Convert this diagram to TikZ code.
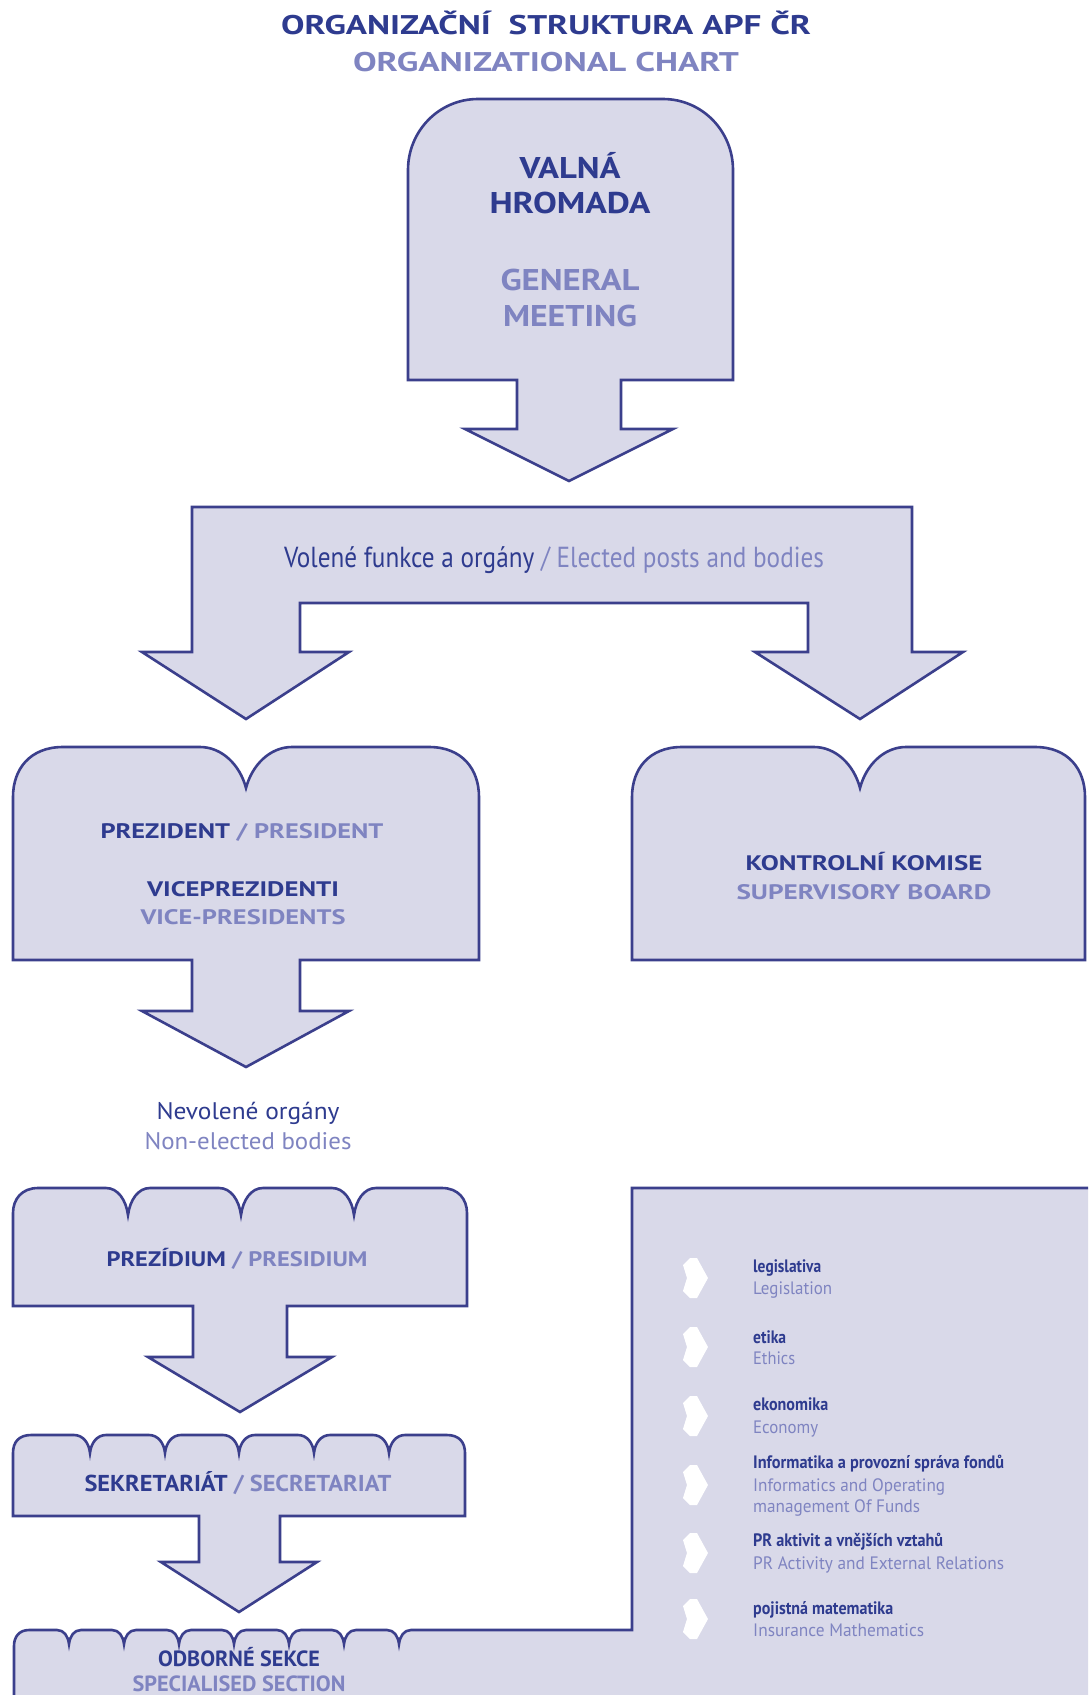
\documentclass[tikz,border=0pt]{standalone}
\usepackage{fontspec}
\setmainfont{PT Sans}
\usepackage{graphicx}
\definecolor{dk}{HTML}{2E3B8F}
\definecolor{lt}{HTML}{7F84C1}
\definecolor{boxfill}{HTML}{D9D9E9}
\definecolor{boxline}{HTML}{3B3F8C}
\newsavebox\hfbox
\newlength\hflen
\newcommand\hfit[2]{\sbox\hfbox{#2}\setlength\hflen{\wd\hfbox}\pgfmathsetmacro\hfsx{#1/\hflen}\scalebox{\hfsx}[1]{\usebox\hfbox}}
\newcommand\fs[1]{\fontsize{#1}{#1}\selectfont}
\tikzset{
  blockshape/.style={draw=boxline, fill=boxfill, line width=2.6pt, line join=miter},
  txt/.style={anchor=base, inner sep=0pt},
  ltxt/.style={anchor=base west, inner sep=0pt},
  chev/.style={fill=white, draw=none}
}
\begin{document}
\begin{tikzpicture}[x=1pt,y=-1pt]
\useasboundingbox (0,0) rectangle (1088,1695);
\clip (0,0) rectangle (1088,1695);
\fill[white] (0,0) rectangle (1088,1695);

% Title
\node[txt] (title1) at (546,34.5) {\fs{27}\bfseries\color{dk}\hfit{530}{ORGANIZAČNÍ\ \ STRUKTURA APF ČR}};
\node[txt] (title2) at (546,71.5) {\fs{27}\bfseries\color{lt}\hfit{386}{ORGANIZATIONAL CHART}};

% Valna hromada
\draw[blockshape] (408,380) -- (408,170) .. controls (408,131) and (439,99) .. (478,99)
  -- (663,99) .. controls (702,99) and (733,131) .. (733,170) -- (733,380)
  -- (621,380) -- (621,429) -- (673,429) -- (569,481) -- (465,429) -- (517,429) -- (517,380) -- cycle;
\node[txt] (valna) at (570,178.5) {\fs{30}\bfseries\color{dk}\hfit{101}{VALNÁ}};
\node[txt] (hromada) at (570,213.5) {\fs{30}\bfseries\color{dk}\hfit{161}{HROMADA}};
\node[txt] (general) at (570,290.5) {\fs{30}\bfseries\color{lt}\hfit{139}{GENERAL}};
\node[txt] (meeting) at (570,326.5) {\fs{30}\bfseries\color{lt}\hfit{134}{MEETING}};

% Elected band
\draw[blockshape] (192,507) -- (912,507) -- (912,652) -- (963,652) -- (860,719) -- (755,652)
  -- (808,652) -- (808,603) -- (300,603) -- (300,652) -- (349,652) -- (246,719) -- (142,652)
  -- (192,652) -- cycle;
\node[txt] (elected) at (554,567) {\fs{29}\hfit{540}{\color{dk}Volené funkce a orgány \color{lt}/ Elected posts and bodies}};

% President box
\draw[blockshape] (13,960) -- (13,797) .. controls (13,769) and (30,747) .. (63,747)
  -- (200,747) .. controls (222,747) and (240,765) .. (246,788)
  .. controls (252,765) and (270,747) .. (292,747)
  -- (429,747) .. controls (462,747) and (479,769) .. (479,797)
  -- (479,960) -- (300,960) -- (300,1011) -- (349,1011) -- (246,1067) -- (142,1011)
  -- (192,1011) -- (192,960) -- cycle;
\node[txt] (prez) at (242,838.5) {\fs{21}\bfseries\hfit{283}{\color{dk}PREZIDENT \color{lt}/ PRESIDENT}};
\node[txt] (vice) at (243,896.5) {\fs{21}\bfseries\color{dk}\hfit{192}{VICEPREZIDENTI}};
\node[txt] (viceen) at (243,924.5) {\fs{21}\bfseries\color{lt}\hfit{205}{VICE-PRESIDENTS}};

% Kontrolni komise
\draw[blockshape] (632,960) -- (632,797) .. controls (632,769) and (649,747) .. (682,747)
  -- (814,747) .. controls (836,747) and (854,765) .. (860,788)
  .. controls (866,765) and (884,747) .. (906,747)
  -- (1035,747) .. controls (1068,747) and (1085,769) .. (1085,797)
  -- (1085,960) -- cycle;
\node[txt] (kk) at (864,870.5) {\fs{21}\bfseries\color{dk}\hfit{237}{KONTROLNÍ KOMISE}};
\node[txt] (sb) at (864,899.5) {\fs{21}\bfseries\color{lt}\hfit{255}{SUPERVISORY BOARD}};

% Non-elected
\node[txt] (nevol) at (248,1119) {\fs{24}\color{dk}\hfit{183}{Nevolené orgány}};
\node[txt] (nonel) at (248,1149) {\fs{24}\color{lt}\hfit{207}{Non-elected bodies}};

% Prezidium
\draw[blockshape] (13,1306) -- (13,1213) .. controls (13,1199) and (22,1188) .. (38,1188)
  \foreach \n in {128,241,354} { -- (\n-22,1188) .. controls (\n-10,1188) and (\n-2,1200) .. (\n,1215)
     .. controls (\n+2,1200) and (\n+10,1188) .. (\n+22,1188) }
  -- (442,1188) .. controls (458,1188) and (467,1199) .. (467,1213)
  -- (467,1306) -- (287,1306) -- (287,1357) -- (332,1357) -- (240,1412) -- (148,1357)
  -- (193,1357) -- (193,1306) -- cycle;
\node[txt] (prezidium) at (237,1266) {\fs{21}\bfseries\hfit{261}{\color{dk}PREZÍDIUM \color{lt}/ PRESIDIUM}};

% Sekretariat
\draw[blockshape] (13,1516) -- (13,1453) .. controls (13,1442) and (19,1435) .. (31,1435)
  \foreach \n in {90,165,239,314,389} { -- (\n-16,1435) .. controls (\n-7,1435) and (\n-1,1443) .. (\n,1453)
     .. controls (\n+1,1443) and (\n+7,1435) .. (\n+16,1435) }
  -- (447,1435) .. controls (459,1435) and (465,1442) .. (465,1453)
  -- (465,1516) -- (280,1516) -- (280,1562) -- (317,1562) -- (239,1612) -- (161,1562)
  -- (199,1562) -- (199,1516) -- cycle;
\node[txt] (sekr) at (238,1491) {\fs{23}\bfseries\hfit{307}{\color{dk}SEKRETARIÁT \color{lt}/ SECRETARIAT}};

% Odborne sekce + panel
\draw[blockshape] (14,1710) -- (14,1646) .. controls (14,1637) and (19,1630) .. (29,1630)
  \foreach \n in {69,124,179,234,289,344,399} { -- (\n-12,1630) .. controls (\n-5,1630) and (\n-1,1636) .. (\n,1644)
     .. controls (\n+1,1636) and (\n+5,1630) .. (\n+12,1630) }
  -- (632,1630) -- (632,1188) -- (1100,1188) -- (1100,1710) -- cycle;
\node[txt] (odb) at (239,1666.5) {\fs{22}\bfseries\color{dk}\hfit{162}{ODBORNÉ SEKCE}};
\node[txt] (spec) at (239,1691.5) {\fs{22}\bfseries\color{lt}\hfit{213}{SPECIALISED SECTION}};

% Chevrons
\foreach \cy/\nm in {1278/c1,1347/c2,1416/c3,1485/c4,1553/c5,1619/c6} {
  \fill[chev] (683,\cy-13) -- (690,\cy-20) -- (697,\cy-20) -- (708,\cy) -- (697,\cy+20) -- (690,\cy+20) -- (683,\cy+13) -- (687,\cy) -- cycle;
}

% Sections list
\node[ltxt] (s1a) at (753,1272) {\fs{18}\bfseries\color{dk}\hfit{68}{legislativa}};
\node[ltxt] (s1b) at (753,1294) {\fs{18}\color{lt}\hfit{79}{Legislation}};
\node[ltxt] (s2a) at (753,1343) {\fs{18}\bfseries\color{dk}\hfit{33}{etika}};
\node[ltxt] (s2b) at (753,1364) {\fs{18}\color{lt}\hfit{42}{Ethics}};
\node[ltxt] (s3a) at (753,1410) {\fs{18}\bfseries\color{dk}\hfit{75}{ekonomika}};
\node[ltxt] (s3b) at (753,1433) {\fs{18}\color{lt}\hfit{65}{Economy}};
\node[ltxt] (s4a) at (753,1468) {\fs{18}\bfseries\color{dk}\hfit{251}{Informatika a provozní správa fondů}};
\node[ltxt] (s4b) at (753,1491) {\fs{18}\color{lt}\hfit{192}{Informatics and Operating}};
\node[ltxt] (s4c) at (753,1512) {\fs{18}\color{lt}\hfit{167}{management Of Funds}};
\node[ltxt] (s5a) at (753,1546) {\fs{18}\bfseries\color{dk}\hfit{190}{PR aktivit a vnějších vztahů}};
\node[ltxt] (s5b) at (753,1569) {\fs{18}\color{lt}\hfit{251}{PR Activity and External Relations}};
\node[ltxt] (s6a) at (753,1614) {\fs{18}\bfseries\color{dk}\hfit{140}{pojistná matematika}};
\node[ltxt] (s6b) at (753,1636) {\fs{18}\color{lt}\hfit{171}{Insurance Mathematics}};
\end{tikzpicture}
\end{document}
